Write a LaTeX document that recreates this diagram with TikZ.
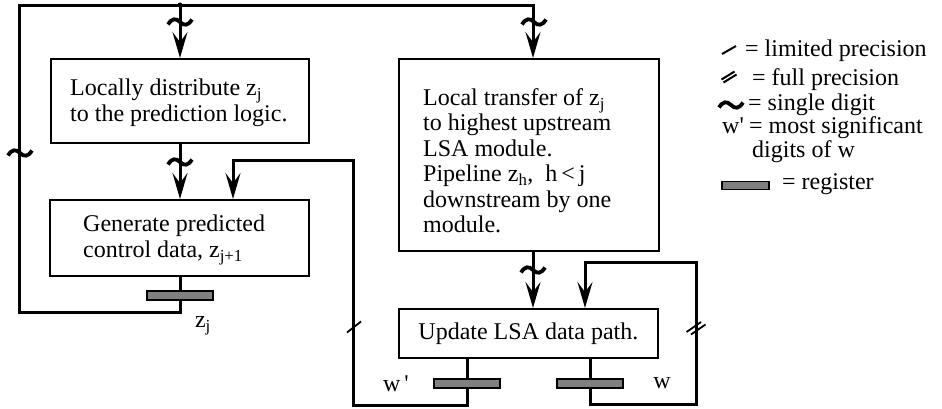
\documentclass[tikz,border=0pt]{standalone}
\usepackage{fontspec}
\setmainfont{Liberation Serif}
\usetikzlibrary{arrows.meta,calc}
\definecolor{regfill}{RGB}{128,128,128}
\begin{document}
\begin{tikzpicture}[x=1pt,y=-1pt,
  txt/.style={font=\fontsize{24}{25.5}\selectfont, inner sep=0pt},
  box/.style={draw, line width=1.8pt, inner sep=0pt},
  wire/.style={line width=3pt},
  arr/.style={wire,-{Stealth[length=26pt,width=15pt,inset=10pt]}},
  reg/.style={draw, line width=1.6pt, fill=regfill, minimum width=66pt, minimum height=9pt, inner sep=0pt},
  tld/.pic={\draw[line width=3.8pt] (-12,2.5) .. controls (-8,-4) and (-4,-4) .. (0,0) .. controls (4,4) and (8,4) .. (12,-2.5);},
  slsh/.pic={\draw[line width=1.8pt] (-7,5.5) -- (7,-5.5);},
  dslsh/.pic={\draw[line width=1.8pt] (-9.5,4) -- (5,-6) (-5,6.5) -- (9.5,-3.5);},
  lslsh/.pic={\draw[line width=2pt] (-7,4) -- (7,-4);},
  ldslsh/.pic={\draw[line width=2pt] (-7.5,2.5) -- (5.5,-5.5) (-5.5,5.5) -- (7.5,-2.5);}
]
\useasboundingbox (0,0) rectangle (942,408);

% boxes
\node[box, minimum width=258pt, minimum height=84pt, anchor=north west] (b1) at (50,58) {};
\node[txt, anchor=west, align=left] (t1) at ($(b1.west)+(20,2)$) {Locally distribute z\textsubscript{j}\\to the prediction logic.};
\node[box, minimum width=259pt, minimum height=76pt, anchor=north west] (b2) at (49,199) {};
\node[txt, anchor=west, align=left] (t2) at ($(b2.west)+(34,2)$) {Generate predicted\\control data,\ z\textsubscript{j+1}};
\node[box, minimum width=260pt, minimum height=192pt, anchor=north west] (b3) at (398,58) {};
\node[txt, anchor=west, align=left] (t3) at ($(b3.west)+(25,6)$) {Local transfer of z\textsubscript{j}\\to highest upstream\\LSA module.\\Pipeline z\textsubscript{h},\ \ h\,<\,j\\downstream by one\\module.};
\node[box, minimum width=259pt, minimum height=49pt, anchor=north west] (b4) at (398,308) {};
\node[txt] (t4) at (b4.center) {Update LSA data path.};

% registers
\node[reg] (r1) at (180,295.5) {};
\node[reg] (r2) at (467,383.5) {};
\node[reg] (r3) at (590,383.5) {};

% coordinates
\coordinate (dot) at (180,5);
\coordinate (tl) at (19,5);
\coordinate (tr) at (533,5);
\coordinate (bl) at (19,312);
\coordinate (c3) at (353,405);
\coordinate (c4) at (353,160);
\coordinate (k2) at (233,160);
\coordinate (c5) at (696,404);
\coordinate (c6) at (696,262);
\coordinate (k4) at (585,262);

% wires
\draw[wire] (b2.south -| r1) -- (r1.north);
\draw[arr] (r1.south) |- (bl) -- (tl) -- (tr) -- (tr |- b3.north);
\fill (dot) circle (2.5pt);
\draw[arr] (dot) -- (dot |- b1.north);
\draw[arr] (dot |- b1.south) -- (dot |- b2.north);
\draw[wire] (b4.south -| r2) -- (r2.north);
\draw[arr] (r2.south) |- (c3) -- (c4) -- (k2) -- (k2 |- b2.north);
\draw[wire] (b4.south -| r3) -- (r3.north);
\draw[arr] (r3.south) |- (c5) -- (c6) -- (k4) -- (k4 |- b4.north);
\draw[arr] (b3.south -| tr) -- (b4.north -| tr);

% precision marks
\pic at (180,22) {tld};
\pic at (20,153) {tld};
\pic at (180,162) {tld};
\pic at (534,22) {tld};
\pic at (533,270) {tld};
\pic at (354,327) {slsh};
\pic at (696,328) {dslsh};

% labels
\node[txt] (lzj) at (203,326) {z\textsubscript{j}};
\node[txt] (lw1) at (396,384) {w\,\textquotesingle};
\node[txt] (lw) at (662,383) {w};

% legend
\pic at (729,50) {lslsh};
\node[txt, anchor=base west] (lg1) at (745,56) {= limited precision};
\pic at (729,77) {ldslsh};
\node[txt, anchor=base west] (lg2) at (752,85) {= full precision};
\pic at (731,105) {tld};
\node[txt, anchor=base west] (lg3) at (748,110) {= single digit};
\node[txt, anchor=base west] (lg4a) at (722,133) {w\textquotesingle};
\node[txt, anchor=base west] (lg4) at (749,133) {= most significant};
\node[txt, anchor=base west] (lg5) at (752,157) {digits of w};
\node[reg, minimum width=47pt, minimum height=8pt] (lgr) at (745.5,185.5) {};
\node[txt, anchor=base west] (lg6) at (782,189) {= register};
\end{tikzpicture}
\end{document}
